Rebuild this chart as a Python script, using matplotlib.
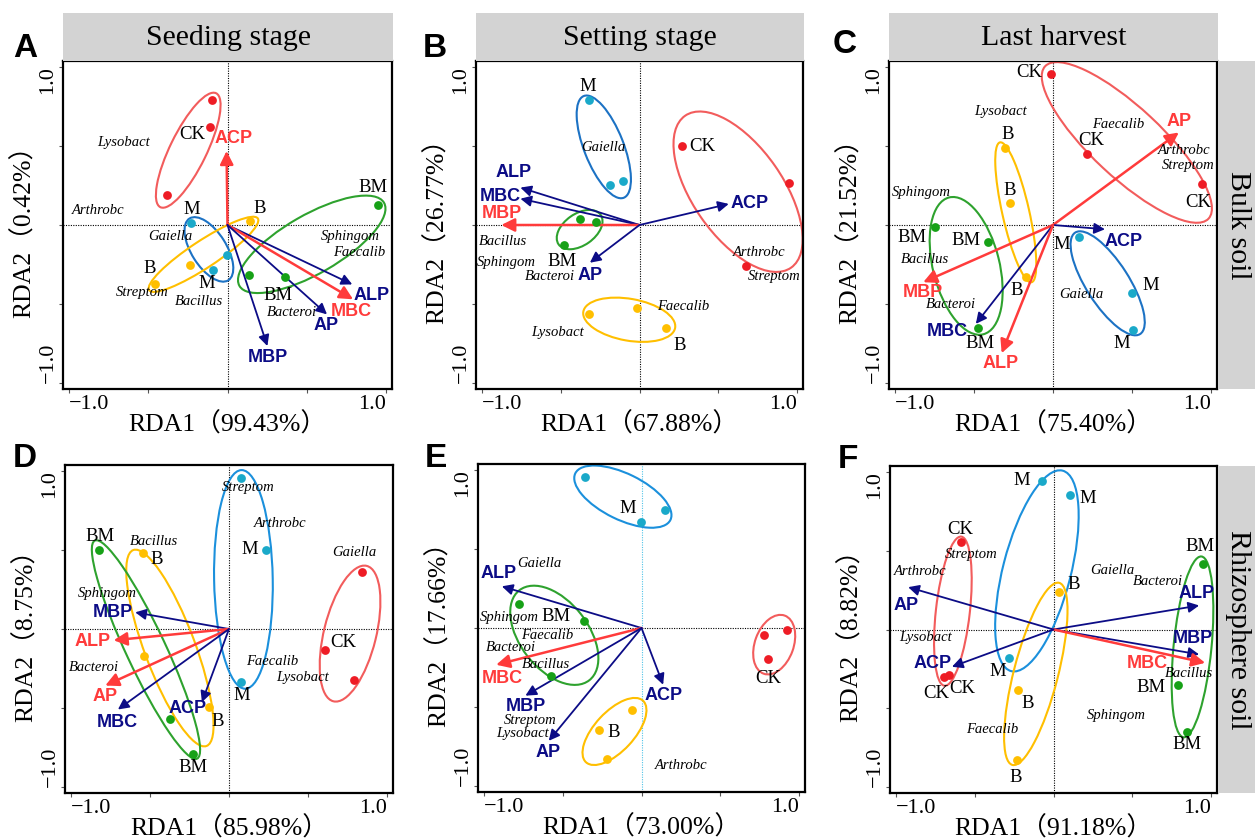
import matplotlib
matplotlib.use('Agg')
import matplotlib.pyplot as plt
from matplotlib.patches import Ellipse

#   schriften
SERIF = ['Liberation Serif', 'DejaVu Serif']
LABFONT = ['Liberation Serif', 'Noto Sans CJK SC']
SANS = ['Liberation Sans', 'DejaVu Sans']

#   farben
pt_col = {'CK': '#ee1c25', 'M': '#1aa9c9', 'B': '#ffbf00', 'BM': '#17a117'}
el_col = {'CK': '#f25c5c', 'M': '#1c72c4', 'B': '#ffbf00', 'BM': '#2ea22e'}
el_col2 = {'CK': '#f25c5c', 'M': '#1b90dc', 'B': '#ffbf00', 'BM': '#2ea22e'}
arr_col = {'r': '#ff3b3b', 'b': '#0c0c86'}

#   achsenbeschriftungen
panels = ['A', 'B', 'C', 'D', 'E', 'F']
rda1 = ['99.43%', '67.88%', '75.40%', '85.98%', '73.00%', '91.18%']
rda2 = ['0.42%', '26.77%', '21.52%', '8.75%', '17.66%', '8.82%']
stages = ['Seeding stage', 'Setting stage', 'Last harvest']
soils = ['Bulk soil', 'Rhizosphere soil']

#### A - seeding stage, bulk soil
a_pts = {'CK': [(-0.098, 0.789), (-0.107, 0.619), (-0.383, 0.187)],
         'M': [(-0.228, 0.013), (-0.006, -0.187), (-0.094, -0.286)],
         'B': [(0.14, 0.023), (-0.239, -0.25), (-0.459, -0.373)],
         'BM': [(0.944, 0.126), (0.136, -0.318), (0.36, -0.326)]}
a_ell = {'CK': (-0.247, 0.472, 0.80, 0.23, 64), 'M': (-0.117, -0.154, 0.46, 0.22, -58),
         'B': (-0.151, -0.185, 0.82, 0.17, 33.5), 'BM': (0.53, -0.122, 1.05, 0.37, 30)}
a_lab = [('CK', -0.22, 0.573), ('M', -0.226, 0.095), ('M', -0.132, -0.368), ('B', 0.2, 0.105),
         ('B', -0.488, -0.276), ('BM', 0.915, 0.236), ('BM', 0.318, -0.444)]
a_env = [('ACP', 'r', -0.006, 0.467, 0.04, 0.545), ('ALP', 'b', 0.785, -0.375, 0.905, -0.444),
         ('MBC', 'r', 0.79, -0.469, 0.779, -0.543), ('AP', 'b', 0.626, -0.564, 0.622, -0.634),
         ('MBP', 'b', 0.251, -0.764, 0.251, -0.838)]
a_spec = [('Lysobact', -0.651, 0.52), ('Arthrobc', -0.817, 0.091), ('Gaiella', -0.358, -0.074),
          ('Streptom', -0.534, -0.427), ('Bacillus', -0.18, -0.48), ('Sphingom', 0.773, -0.074),
          ('Faecalib', 0.831, -0.175), ('Bacteroi', 0.406, -0.554)]

#### B - setting stage, bulk soil
b_pts = {'CK': [(0.268, 0.497), (0.947, 0.267), (0.674, -0.259)],
         'M': [(-0.32, 0.789), (-0.188, 0.25), (-0.105, 0.28)],
         'B': [(-0.318, -0.564), (-0.013, -0.522), (0.168, -0.648)],
         'BM': [(-0.377, 0.038), (-0.276, 0.021), (-0.477, -0.128)]}
b_ell = {'CK': (0.624, 0.21, 1.17, 0.57, -55), 'M': (-0.226, 0.493, 0.69, 0.25, -68.5),
         'B': (-0.065, -0.598, 0.59, 0.264, -10), 'BM': (-0.379, -0.029, 0.325, 0.2, 35)}
b_lab = [('M', -0.325, 0.872), ('CK', 0.398, 0.493), ('BM', -0.488, -0.232), ('B', 0.255, -0.76)]
b_env = [('ALP', 'b', -0.754, 0.236, -0.796, 0.33), ('MBC', 'b', -0.754, 0.166, -0.88, 0.183),
         ('MBP', 'r', -0.875, 0.0, -0.873, 0.072), ('AP', 'b', -0.314, -0.238, -0.314, -0.318),
         ('ACP', 'b', 0.565, 0.133, 0.695, 0.133)]
b_spec = [('Gaiella', -0.23, 0.49), ('Bacillus', -0.865, -0.105), ('Sphingom', -0.844, -0.238),
          ('Bacteroi', -0.57, -0.328), ('Arthrobc', 0.754, -0.175), ('Streptom', 0.852, -0.322),
          ('Faecalib', 0.276, -0.516), ('Lysobact', -0.521, -0.676)]

#### C - last harvest, bulk soil
c_pts = {'CK': [(-0.015, 0.952), (0.216, 0.447), (0.941, 0.258)],
         'M': [(0.164, -0.078), (0.496, -0.431), (0.504, -0.662)],
         'B': [(-0.305, 0.487), (-0.269, 0.139), (-0.168, -0.33)],
         'BM': [(-0.746, -0.011), (-0.408, -0.107), (-0.471, -0.649)]}
c_ell = {'CK': (0.466, 0.521, 1.41, 0.44, -43), 'M': (0.345, -0.368, 0.76, 0.27, -57.4),
         'B': (-0.235, 0.08, 0.905, 0.17, 102.7), 'BM': (-0.548, -0.258, 0.89, 0.42, -76)}
c_lab = [('CK', -0.151, 0.962), ('CK', 0.242, 0.536), ('CK', 0.916, 0.143), ('B', -0.284, 0.569),
         ('B', -0.271, 0.216), ('B', -0.229, -0.414), ('BM', -0.89, -0.078), ('BM', -0.55, -0.099),
         ('BM', -0.46, -0.75), ('M', 0.053, -0.12), ('M', 0.616, -0.382), ('M', 0.433, -0.746)]
c_env = [('AP', 'r', 0.794, 0.584, 0.794, 0.653), ('ACP', 'b', 0.328, -0.027, 0.447, -0.103),
         ('MBP', 'r', -0.819, -0.361, -0.819, -0.429), ('MBC', 'b', -0.487, -0.624, -0.666, -0.672),
         ('ALP', 'r', -0.324, -0.809, -0.33, -0.876)]
c_spec = [('Lysobact', -0.33, 0.716), ('Faecalib', 0.412, 0.632), ('Arthrobc', 0.826, 0.473),
          ('Streptom', 0.853, 0.376), ('Sphingom', -0.834, 0.206), ('Bacillus', -0.807, -0.218),
          ('Bacteroi', -0.645, -0.504), ('Gaiella', 0.181, -0.439)]

#### D - seeding stage, rhizosphere soil
d_pts = {'CK': [(0.842, 0.359), (0.606, -0.13), (0.792, -0.324)],
         'M': [(0.074, 0.952), (0.234, 0.5), (0.078, -0.334)],
         'B': [(-0.545, 0.479), (-0.537, -0.17), (-0.124, -0.492)],
         'BM': [(-0.823, 0.5), (-0.371, -0.567), (-0.229, -0.792)]}
d_ell = {'CK': (0.764, -0.029, 0.88, 0.33, 76.2), 'M': (0.091, 0.313, 1.38, 0.37, 91),
         'B': (-0.373, -0.12, 1.32, 0.32, -69.5), 'BM': (-0.524, -0.13, 1.52, 0.25, -64.9)}
d_lab = [('M', 0.131, 0.5), ('M', 0.078, -0.42), ('CK', 0.724, -0.088), ('BM', -0.817, 0.584),
         ('BM', -0.227, -0.876), ('B', -0.455, 0.441), ('B', -0.072, -0.582)]
d_env = [('MBP', 'b', -0.592, 0.105, -0.735, 0.105), ('ALP', 'r', -0.728, -0.071, -0.861, -0.078),
         ('AP', 'r', -0.781, -0.357, -0.781, -0.429), ('MBC', 'b', -0.701, -0.508, -0.703, -0.588),
         ('ACP', 'b', -0.171, -0.462, -0.259, -0.504)]
d_spec = [('Streptom', 0.124, 0.895), ('Arthrobc', 0.324, 0.668), ('Bacillus', -0.476, 0.553),
          ('Gaiella', 0.792, 0.483), ('Sphingom', -0.771, 0.223), ('Bacteroi', -0.855, -0.246),
          ('Faecalib', 0.272, -0.204), ('Lysobact', 0.461, -0.309)]

#### E - setting stage, rhizosphere soil
e_pts = {'CK': [(0.775, -0.046), (0.922, -0.015), (0.802, -0.194)],
         'M': [(-0.358, 0.954), (0.149, 0.747), (-0.002, 0.669)],
         'B': [(-0.057, -0.516), (-0.272, -0.644), (-0.221, -0.825)],
         'BM': [(-0.777, 0.149), (-0.366, 0.042), (-0.571, -0.305)]}
e_ell = {'CK': (0.84, -0.105, 0.39, 0.245, 70), 'M': (-0.118, 0.829, 0.67, 0.29, -26),
         'B': (-0.171, -0.653, 0.53, 0.25, 47), 'BM': (-0.552, -0.046, 0.72, 0.43, -52)}
e_lab = [('M', -0.084, 0.752), ('CK', 0.802, -0.316), ('BM', -0.539, 0.074), ('B', -0.173, -0.657)]
e_env = [('ALP', 'b', -0.884, 0.263, -0.905, 0.347), ('MBC', 'r', -0.92, -0.232, -0.884, -0.316),
         ('MBP', 'b', -0.735, -0.427, -0.731, -0.495), ('AP', 'b', -0.587, -0.712, -0.589, -0.783),
         ('ACP', 'b', 0.137, -0.358, 0.137, -0.427)]
e_spec = [('Gaiella', -0.646, 0.404), ('Sphingom', -0.836, 0.069), ('Faecalib', -0.594, -0.046),
          ('Bacteroi', -0.825, -0.126), ('Bacillus', -0.604, -0.232), ('Streptom', -0.705, -0.583),
          ('Lysobact', -0.756, -0.667), ('Arthrobc', 0.248, -0.867)]

#### F - last harvest, rhizosphere soil
f_pts = {'CK': [(-0.586, 0.553), (-0.692, -0.302), (-0.66, -0.291)],
         'M': [(-0.074, 0.939), (0.103, 0.854), (-0.281, -0.179)],
         'B': [(0.032, 0.238), (-0.224, -0.386), (-0.234, -0.829)],
         'BM': [(0.949, 0.416), (0.789, -0.352), (0.848, -0.648)]}
f_ell = {'CK': (-0.637, 0.116, 0.95, 0.215, 83.6), 'M': (-0.105, 0.371, 1.31, 0.43, 75.6),
         'B': (-0.112, -0.281, 1.19, 0.28, 75.6), 'BM': (0.88, -0.11, 1.15, 0.24, 84.4)}
f_lab = [('M', -0.203, 0.943), ('M', 0.215, 0.829), ('M', -0.354, -0.264), ('CK', -0.593, 0.633),
         ('CK', -0.741, -0.405), ('CK', -0.58, -0.376), ('B', 0.131, 0.285), ('B', -0.165, -0.47),
         ('B', -0.238, -0.935), ('BM', 0.926, 0.527), ('BM', 0.62, -0.369), ('BM', 0.848, -0.728)]
f_env = [('AP', 'b', -0.92, 0.268, -0.935, 0.152), ('ALP', 'b', 0.922, 0.152, 0.907, 0.226),
         ('MBP', 'b', 0.922, -0.158, 0.88, -0.057), ('MBC', 'r', 0.96, -0.211, 0.595, -0.217),
         ('ACP', 'b', -0.643, -0.236, -0.766, -0.215)]
f_spec = [('Streptom', -0.523, 0.475), ('Arthrobc', -0.846, 0.369), ('Gaiella', 0.373, 0.376),
          ('Bacteroi', 0.662, 0.302), ('Lysobact', -0.808, -0.049), ('Bacillus', 0.859, -0.278),
          ('Sphingom', 0.395, -0.544), ('Faecalib', -0.39, -0.633)]

#   pixel-boxen der panels (x0, y0, x1, y1) im 1255x839 bild
boxes = [(63, 61, 392, 389), (476, 61, 803, 389), (889, 61, 1217, 389),
         (65, 465, 393, 793), (478, 464, 805, 792), (890, 466, 1217, 793)]
#   position der buchstaben (links, grundlinie) in pixel
letter_pos = [(13, 57), (423, 57), (833, 53), (13, 467), (425, 467), (838, 468)]
W, H = 1255, 839

fig = plt.figure(figsize=(W / 100, H / 100), dpi=100)


def px_rect(x0, y0, x1, y1):
    return [x0 / W, 1 - y1 / H, (x1 - x0) / W, (y1 - y0) / H]


def draw_panel(i, pts, ell, lab, env, spec):
    ax = fig.add_axes(px_rect(*boxes[i]))
    lim = 1.035
    ax.set_xlim(-lim, lim)
    ax.set_ylim(-lim, lim)
    vcol = '#4fc3e8' if panels[i] == 'E' else 'k'
    ax.axhline(0, color='k', lw=0.8, ls=(0, (1, 1.2)), zorder=1)
    ax.axvline(0, color=vcol, lw=0.8, ls=(0, (1, 1.2)), zorder=1)

    ecols = el_col if i < 3 else el_col2
    for g, (cx, cy, w, h, ang) in ell.items():
        ax.add_patch(Ellipse((cx, cy), w, h, angle=ang, fill=False, ec=ecols[g], lw=1.5, zorder=2))
    for g, p in pts.items():
        ax.scatter([q[0] for q in p], [q[1] for q in p], s=40, color=pt_col[g], lw=0, zorder=4)
    for t, x, y in lab:
        ax.text(x, y, t, fontsize=13.5, family=SERIF, ha='center', va='center', zorder=5)
    for t, c, x, y, lx, ly in env:
        red = c == 'r'
        ax.annotate('', xy=(x, y), xytext=(0, 0),
                    arrowprops=dict(arrowstyle='-|>', color=arr_col[c], lw=1.8 if red else 1.3,
                                    mutation_scale=20 if red else 16, shrinkA=0, shrinkB=0), zorder=3)
        ax.text(lx, ly, t, fontsize=13, family=SANS, weight='bold', color=arr_col[c],
                ha='center', va='center', zorder=5)
    for t, x, y in spec:
        ax.text(x, y, t, fontsize=10.5, family=SERIF, style='italic', ha='center', va='center', zorder=5)

    ticks = [-1, -0.5, 0, 0.5, 1]
    ax.set_xticks(ticks)
    ax.set_xticklabels(['\u22121.0', '', '', '', '1.0'], fontsize=16, family=SERIF)
    ax.set_yticks(ticks)
    ax.set_yticklabels(['\u22121.0', '', '', '', '1.0'], fontsize=16, family=SERIF, rotation=90)
    xl = ax.get_xticklabels()
    xl[0].set_ha('left')
    xl[-1].set_ha('right')
    yl = ax.get_yticklabels()
    yl[0].set_va('bottom')
    yl[-1].set_va('top')
    ax.tick_params(length=3, width=0.8, color='#555555', pad=1)
    for s in ax.spines.values():
        s.set_linewidth(1.6)
    ax.set_xlabel('RDA1\uff08' + rda1[i] + '\uff09', fontsize=18.5, family=LABFONT, labelpad=-1)
    ax.set_ylabel('RDA2\uff08' + rda2[i] + '\uff09', fontsize=18.5, family=LABFONT, labelpad=2)

    lx, ly = letter_pos[i]
    fig.text(lx / W, 1 - ly / H, panels[i], fontsize=24, family=SANS, weight='bold',
             ha='left', va='baseline')
    return ax


panel_data = [(a_pts, a_ell, a_lab, a_env, a_spec), (b_pts, b_ell, b_lab, b_env, b_spec),
              (c_pts, c_ell, c_lab, c_env, c_spec), (d_pts, d_ell, d_lab, d_env, d_spec),
              (e_pts, e_ell, e_lab, e_env, e_spec), (f_pts, f_ell, f_lab, f_env, f_spec)]
for i, dat in enumerate(panel_data):
    draw_panel(i, *dat)

#   graue streifen oben (stadium) und rechts (boden)
for j in range(3):
    x0, y0, x1, y1 = boxes[j]
    sx = fig.add_axes(px_rect(x0, 13, x1 + 1, y0))
    sx.set_facecolor('#d3d3d3')
    sx.set_xticks([]); sx.set_yticks([])
    for s in sx.spines.values():
        s.set_visible(False)
    sx.text(0.5, 0.48, stages[j], transform=sx.transAxes, fontsize=21.5, family=SERIF,
            ha='center', va='center')

for j, k in enumerate([2, 5]):
    x0, y0, x1, y1 = boxes[k]
    sx = fig.add_axes(px_rect(x1 + 1, y0, W, y1))
    sx.set_facecolor('#d3d3d3')
    sx.set_xticks([]); sx.set_yticks([])
    for s in sx.spines.values():
        s.set_visible(False)
    sx.text(0.55, 0.5, soils[j], transform=sx.transAxes, fontsize=21.5, family=SERIF,
            ha='center', va='center', rotation=-90)

plt.savefig('out.png', dpi=100)
